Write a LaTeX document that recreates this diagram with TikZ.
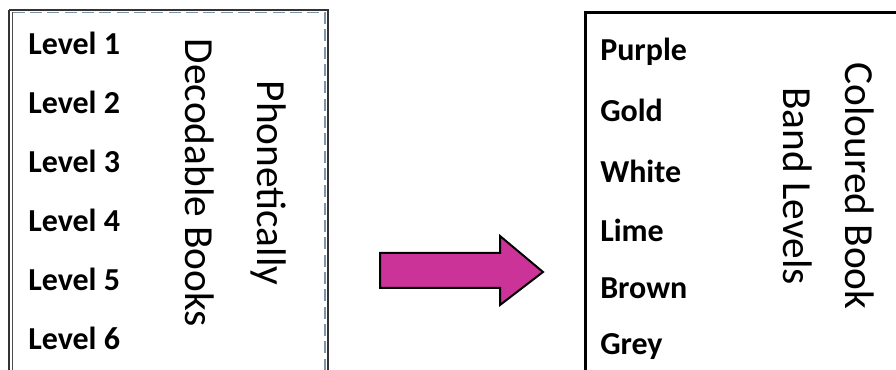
\documentclass[tikz,border=0pt]{standalone}
\usepackage{fontspec}
\setmainfont{Carlito}
\usetikzlibrary{positioning}

\definecolor{arrowpink}{HTML}{CC3399}
\definecolor{dashblue}{HTML}{7F93AC}

\begin{document}
\begin{tikzpicture}[x=0.75pt, y=-0.75pt,
	item/.style={anchor=west, inner sep=0pt, font=\fontsize{24}{26}\selectfont\bfseries},
	side/.style={rotate=-90, align=center, inner sep=0pt}]
	\useasboundingbox (0,0) rectangle (896,370);
	%left box
	\draw[line width=1.5pt, black!80] (9,10) -- (328,10) -- (328,380);
	\draw[line width=1.5pt, black!80] (9,10) -- (9,380);
	\draw[line width=1.2pt, dashblue, dash pattern=on 9pt off 4pt] (12.5,12.5) -- (325,12.5) -- (325,380);
	\draw[line width=1pt, black!70] (12.5,12.5) -- (12.5,380);
	\node[item] (lvl1) at (28,43) {Level 1};
	\node[item] (lvl2) at (28,102) {Level 2};
	\node[item] (lvl3) at (28,161) {Level 3};
	\node[item] (lvl4) at (28,220) {Level 4};
	\node[item] (lvl5) at (28,279) {Level 5};
	\node[item] (lvl6) at (28,338) {Level 6};
	\node[side, font=\fontsize{31}{54}\selectfont] (phon) at (236,183) {Phonetically\\Decodable Books};
	%arrow
	\draw[line width=1.5pt, fill=arrowpink, line join=miter]
		(380,253) -- (500,253) -- (500,236) -- (543,272) -- (500,305) -- (500,288) -- (380,288) -- cycle;
	%right box
	\draw[line width=2.2pt] (585.5,12.5) -- (900,12.5);
	\draw[line width=2.2pt] (585.5,11.5) -- (585.5,380);
	\node[item] (purple) at (600,52) {Purple};
	\node[item] (gold) at (600,110) {Gold};
	\node[item] (white) at (600,171) {White};
	\node[item] (lime) at (600,230) {Lime};
	\node[item] (brown) at (600,288) {Brown};
	\node[item] (grey) at (600,347) {Grey};
	\node[side, font=\fontsize{31}{46.5}\selectfont] (band) at (829,186) {Coloured Book\\Band Levels};
\end{tikzpicture}
\end{document}
